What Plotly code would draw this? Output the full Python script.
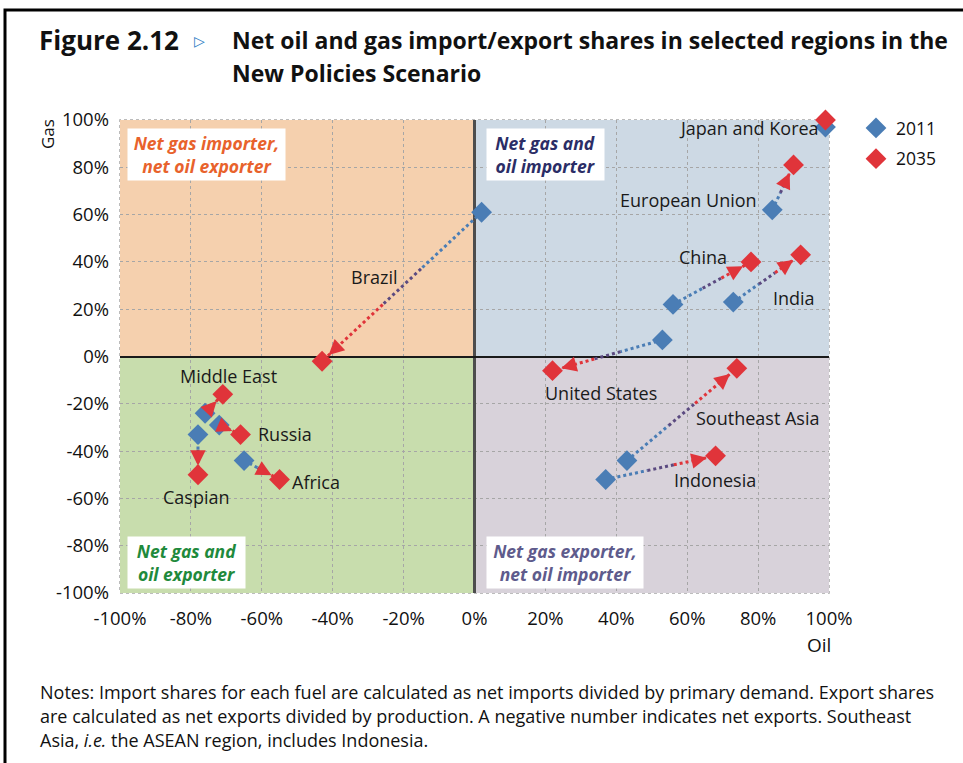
import math
import plotly.graph_objects as go

# ---------------- data ----------------
regions = ["Japan and Korea", "European Union", "China", "India", "United States", "Brazil",
           "Southeast Asia", "Indonesia", "Middle East", "Russia", "Caspian", "Africa"]
oil_2011 = [99, 84, 56, 73, 53, 2, 43, 37, -76, -72, -78, -65]
gas_2011 = [97, 62, 22, 23, 7, 61, -44, -52, -24, -29, -33, -44]
oil_2035 = [99, 90, 78, 92, 22, -43, 74, 68, -71, -66, -78, -55]
gas_2035 = [100, 81, 40, 43, -6, -2, -5, -42, -16, -33, -50, -52]
show_arrow = [False, True, True, True, True, True, True, True, True, True, True, True]

# label positions (data coords) for region names
label_x = [77.4, 60.5, 64.5, 90.1, 35.7, -28.1, 79.7, 67.8, -69.5, -53.5, -78.3, -44.7]
label_y = [96.6, 66.2, 42.1, 24.7, -15.4, 33.6, -26.0, -52.2, -8.2, -32.8, -59.4, -53.1]

tick_vals = [-100, -80, -60, -40, -20, 0, 20, 40, 60, 80, 100]
tick_text = ["-100%", "-80%", "-60%", "-40%", "-20%", "0%", "20%", "40%", "60%", "80%", "100%"]

quad_labels = ["Net gas importer,<br>net oil exporter", "Net gas and<br>oil importer",
               "Net gas and<br>oil exporter", "Net gas exporter,<br>net oil importer"]

# ---------------- layout geometry ----------------
W, H = 963, 763
L, R, T, B = 120, 134, 120, 170
PW, PH = W - L - R, H - T - B
SX = PW / 200.0  # px per unit
SY = PH / 200.0


def px2x(px):
    return (px - L) / PW


def py2y(py):
    return (H - B - py) / PH


BLUE = "#4A7DB5"
RED = "#E0343A"
PURPLE = "#5B4A80"
FONT = "Open Sans"

fig = go.Figure()

# gradient dotted connectors
pieces = [(0.0, 0.38, BLUE), (0.38, 0.62, PURPLE), (0.62, 1.0, RED)]
for i in range(len(regions)):
    if not show_arrow[i]:
        continue
    x0, y0, x1, y1 = oil_2011[i], gas_2011[i], oil_2035[i], gas_2035[i]
    for a, b, c in pieces:
        fig.add_trace(go.Scatter(
            x=[x0 + (x1 - x0) * a, x0 + (x1 - x0) * b],
            y=[y0 + (y1 - y0) * a, y0 + (y1 - y0) * b],
            mode="lines", line=dict(color=c, width=3, dash="dot"),
            showlegend=False, hoverinfo="skip"))

fig.add_trace(go.Scatter(x=oil_2011, y=gas_2011, mode="markers", name="2011",
                         marker=dict(symbol="diamond", size=16, color=BLUE),
                         legendgroup="a", text=regions, cliponaxis=False))
fig.add_trace(go.Scatter(x=oil_2035, y=gas_2035, mode="markers", name="2035",
                         marker=dict(symbol="diamond", size=16, color=RED),
                         legendgroup="b", text=regions, cliponaxis=False))

annotations = []
# arrowheads
for i in range(len(regions)):
    if not show_arrow[i]:
        continue
    dxp = (oil_2035[i] - oil_2011[i]) * SX
    dyp = (gas_2035[i] - gas_2011[i]) * SY
    n = math.hypot(dxp, dyp)
    ux, uy = dxp / n, dyp / n
    Lp = 22
    annotations.append(dict(
        x=oil_2035[i], y=gas_2035[i], xref="x", yref="y",
        ax=-ux * Lp, ay=uy * Lp, axref="pixel", ayref="pixel",
        showarrow=True, arrowhead=2, arrowsize=1.4, arrowwidth=2.2,
        arrowcolor=RED, standoff=9, text=""))

# region labels
for i in range(len(regions)):
    annotations.append(dict(x=label_x[i], y=label_y[i], xref="x", yref="y",
                            xanchor="center", yanchor="middle",
                            text=regions[i], showarrow=False,
                            font=dict(family=FONT, size=18, color="#1a1a1a")))

# quadrant labels
quad_pos = [(206, 154, 157), (545.5, 154, 117), (186.5, 562, 117), (565, 562, 156)]
quad_col = ["#E8622C", "#2B2D66", "#1F8A3C", "#5E5B8C"]
for (cx, cy, w), txt, col in zip(quad_pos, quad_labels, quad_col):
    annotations.append(dict(x=px2x(cx), y=py2y(cy), xref="paper", yref="paper",
                            xanchor="center", yanchor="middle",
                            text="<b><i>" + txt + "</i></b>", showarrow=False,
                            bgcolor="white", width=w - 6, height=45, borderpad=3,
                            font=dict(family=FONT, size=17.5, color=col)))

# title
annotations += [
    dict(x=px2x(37), y=py2y(40), xref="paper", yref="paper", xanchor="left", yanchor="middle",
         text="<b>Figure 2.12</b>", showarrow=False,
         font=dict(family=FONT, size=26, color="#111", weight=800)),
    dict(x=px2x(192), y=py2y(41), xref="paper", yref="paper", xanchor="left", yanchor="middle",
         text="▷", showarrow=False, font=dict(family="DejaVu Sans", size=14, color="#2E7BC4")),
    dict(x=px2x(230), y=py2y(40), xref="paper", yref="paper", xanchor="left", yanchor="middle",
         text="<b>Net oil and gas import/export shares in selected regions in the</b>",
         showarrow=False, font=dict(family=FONT, size=23, color="#111")),
    dict(x=px2x(230), y=py2y(73), xref="paper", yref="paper", xanchor="left", yanchor="middle",
         text="<b>New Policies Scenario</b>", showarrow=False,
         font=dict(family=FONT, size=23, color="#111")),
    dict(x=px2x(47), y=py2y(134), xref="paper", yref="paper", xanchor="center", yanchor="middle",
         text="Gas", textangle=-90,
         showarrow=False, font=dict(family=FONT, size=17, color="#111")),
    dict(x=px2x(819), y=py2y(645), xref="paper", yref="paper", xanchor="center", yanchor="middle",
         text="Oil", showarrow=False, font=dict(family=FONT, size=19, color="#111")),
]
notes = ["Notes: Import shares for each fuel are calculated as net imports divided by primary demand. Export shares",
         "are calculated as net exports divided by production. A negative number indicates net exports. Southeast",
         "Asia, <i>i.e.</i> the ASEAN region, includes Indonesia."]
for k, line in enumerate(notes):
    annotations.append(dict(x=px2x(38), y=py2y(692 + 24 * k), xref="paper", yref="paper",
                            xanchor="left", yanchor="middle", text=line, showarrow=False,
                            font=dict(family=FONT, size=18, color="#111")))

shapes = [
    dict(type="rect", xref="x", yref="y", x0=-100, x1=0, y0=0, y1=100,
         fillcolor="#F5D0AE", line=dict(width=0), layer="below"),
    dict(type="rect", xref="x", yref="y", x0=0, x1=100, y0=0, y1=100,
         fillcolor="#CDD9E4", line=dict(width=0), layer="below"),
    dict(type="rect", xref="x", yref="y", x0=-100, x1=0, y0=-100, y1=0,
         fillcolor="#C8DDAD", line=dict(width=0), layer="below"),
    dict(type="rect", xref="x", yref="y", x0=0, x1=100, y0=-100, y1=0,
         fillcolor="#D8D2DA", line=dict(width=0), layer="below"),
    dict(type="rect", xref="paper", yref="paper", x0=0, x1=1, y0=0, y1=1,
         line=dict(color="#A6A6A6", width=1.5, dash="dot"), layer="below"),
    dict(type="rect", xref="paper", yref="paper", x0=px2x(5), x1=px2x(990), y0=py2y(10), y1=py2y(790),
         line=dict(color="black", width=3), layer="above"),
]

axis_common = dict(range=[-100, 100], tickvals=tick_vals, ticktext=tick_text,
                   showgrid=True, gridcolor="#A6A6A6", griddash="dot", gridwidth=1,
                   showline=False, ticks="", automargin=False,
                   tickfont=dict(family=FONT, size=18.5, color="#111"))

fig.update_layout(
    width=W, height=H,
    margin=dict(l=L, r=R, t=T, b=B, autoexpand=False),
    paper_bgcolor="white", plot_bgcolor="white",
    xaxis=dict(**axis_common, zeroline=True, zerolinecolor="#4d4d4d", zerolinewidth=2.5,
               ticklabelstandoff=12),
    yaxis=dict(**axis_common, zeroline=True, zerolinecolor="#1a1a1a", zerolinewidth=1.5,
               ticklabelstandoff=10),
    legend=dict(x=px2x(856), y=py2y(110), xanchor="left", yanchor="top",
                bgcolor="rgba(0,0,0,0)", font=dict(family=FONT, size=17.5, color="#111"),
                tracegroupgap=5, itemwidth=30),
    showlegend=True,
    annotations=annotations, shapes=shapes,
)

fig.write_html("out.html", config={"displayModeBar": False},
               post_script="document.body.style.margin='0';")
